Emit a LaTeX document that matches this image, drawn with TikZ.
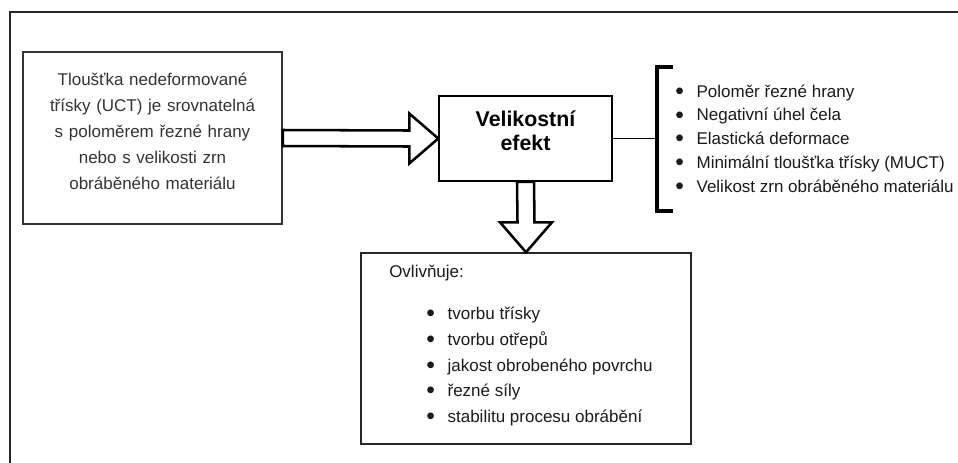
\documentclass[tikz,border=0pt]{standalone}
\usepackage{fontspec}
\setmainfont{Liberation Sans}
\usetikzlibrary{calc,fit}
\definecolor{dg}{HTML}{333333}
\definecolor{tx}{HTML}{1A1A1A}
\newcommand\mybul{\makebox[16pt][l]{\raisebox{-1.6pt}{\scalebox{1.45}{•}}}}
\begin{document}
\begin{tikzpicture}[x=0.75pt,y=-0.75pt,
  box/.style={draw=#1, line width=1.1pt, inner sep=0pt},
  blockarrow/.style={draw=black, line width=1.9pt, fill=white, line join=miter},
  plain/.style={inner sep=0pt, text=tx, align=left},
]
\useasboundingbox (0,0) rectangle (958,462);
% outer frame (clipped)
\draw[line width=1.3pt, black!85] (10,464) -- (10,12) -- (960,12);

% left box
\node[box=dg, fit={(23,52)(282,224)}, align=center, text=dg,
      font={\fontsize{12.75pt}{19.5pt}\selectfont}] (L)
  {Tloušťka nedeformované\\třísky (UCT) je srovnatelná\\s poloměrem řezné hrany\\nebo s velikosti zrn\\obráběného materiálu};

% centre box
\node[box=black, fit={(439,96)(612,181)}, align=center,
      font={\fontsize{16pt}{18pt}\selectfont\bfseries}] (C)
  {Velikostní\\efekt};

% bottom box
\node[box=black!85, fit={(361,253)(691,444)}] (B) {};
\node[plain, anchor=west, font={\fontsize{12.75pt}{19.3pt}\selectfont}] (O) at (389,273) {Ovlivňuje:};
\node[plain, anchor=west, font={\fontsize{12.75pt}{19.3pt}\selectfont}] (BL) at (426,366.5)
  {\mybul tvorbu třísky\\\mybul tvorbu otřepů\\\mybul jakost obrobeného povrchu\\\mybul řezné síly\\\mybul stabilitu procesu obrábění};

% right list
\node[plain, anchor=west, font={\fontsize{12.75pt}{17.8pt}\selectfont}] (R) at (675,139.5)
  {\mybul Poloměr řezné hrany\\\mybul Negativní úhel čela\\\mybul Elastická deformace\\\mybul Minimální tloušťka třísky (MUCT)\\\mybul Velikost zrn obráběného materiálu};

% bracket
\coordinate (brk) at (657,138.5);
\draw[line width=2.3pt, line join=miter] (673,67) -- (657,67) -- (657,211) -- (673,211);
\draw[line width=1.3pt] (C.east) -- (brk);

% right block arrow
\draw[blockarrow] ($(L.east)+(0,-8)$) -- ($(C.west)+(-29,-8)$) -- ($(C.west)+(-29,-25)$)
  -- (C.west) -- ($(C.west)+(-29,25)$) -- ($(C.west)+(-29,8)$) -- ($(L.east)+(0,8)$) -- cycle;

% down block arrow
\draw[blockarrow] ($(C.south)+(-8.5,0)$) -- ($(B.north)+(-8.5,-30)$) -- ($(B.north)+(-26,-30)$)
  -- (B.north) -- ($(B.north)+(26,-30)$) -- ($(B.north)+(8.5,-30)$) -- ($(C.south)+(8.5,0)$) -- cycle;
\end{tikzpicture}
\end{document}
